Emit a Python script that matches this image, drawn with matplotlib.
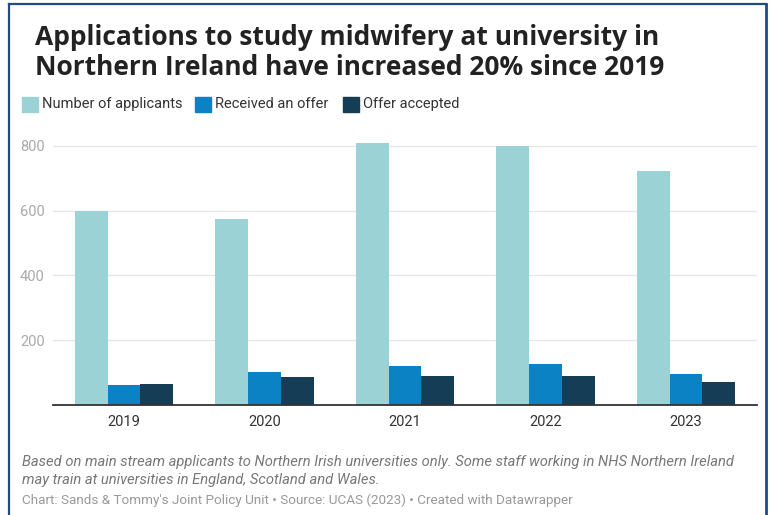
import matplotlib
matplotlib.use("Agg")
import matplotlib.pyplot as plt
import numpy as np

# midwifery applications, Northern Irish universities
years = ["2019", "2020", "2021", "2022", "2023"]
applicants = [600, 574, 809, 800, 723]
offers = [62, 101, 119, 126, 96]
accepted = [64, 85, 89, 89, 71]

series_names = ["Number of applicants", "Received an offer", "Offer accepted"]
series_colors = ["#9ad2d6", "#0a82c4", "#153d55"]

W, H = 771, 515
fig = plt.figure(figsize=(W / 100, H / 100), dpi=100)
fig.patch.set_facecolor("white")

# axes placed in pixel terms
left, right, bottom, top = 53, 757, 405, 130
ax = fig.add_axes([left / W, (H - bottom) / H, (right - left) / W, (bottom - top) / H])

x = np.arange(len(years))
bw = 0.233
for i, (vals, col) in enumerate(zip([applicants, offers, accepted], series_colors)):
    ax.bar(x + (i - 1) * bw, vals, width=bw, color=col, zorder=3)

ax.set_xlim(-0.505, len(years) - 1 + 0.505)
ax.set_ylim(0, 849)
ax.set_yticks([200, 400, 600, 800])
ax.yaxis.grid(True, color="#e6e6e6", lw=1, zorder=0)
ax.tick_params(axis="y", length=0, pad=6, labelsize=10.5, labelcolor="#aaaaaa")
ax.set_xticks(x)
ax.set_xticklabels(years)
ax.tick_params(axis="x", length=0, pad=7, labelsize=10.5, labelcolor="#333333")
for s in ["top", "right", "left"]:
    ax.spines[s].set_visible(False)
ax.spines["bottom"].set_color("#333333")
ax.spines["bottom"].set_linewidth(1.3)
ax.spines["bottom"].set_zorder(4)
for lab in ax.get_yticklabels() + ax.get_xticklabels():
    lab.set_family("Roboto")

# title
fig.text(35 / W, 1 - 45 / H, "Applications to study midwifery at university in",
         fontsize=19, fontweight="bold", family="Open Sans", color="#222222", va="baseline")
fig.text(35 / W, 1 - 75 / H, "Northern Ireland have increased 20% since 2019",
         fontsize=19, fontweight="bold", family="Open Sans", color="#222222", va="baseline")

# legend
leg_x = [22, 195, 343]
for lx, name, col in zip(leg_x, series_names, series_colors):
    fig.patches.append(plt.Rectangle((lx / W, 1 - 112 / H), 16 / W, 15 / H,
                                     transform=fig.transFigure, color=col, figure=fig))
    fig.text((lx + 20) / W, 1 - 104 / H, name, fontsize=10.5, family="Roboto",
             color="#333333", va="center")

# notes
fig.text(22 / W, 1 - 462 / H,
         "Based on main stream applicants to Northern Irish universities only. Some staff working in NHS Northern Ireland",
         fontsize=10.6, family="Roboto", style="italic", color="#777777", va="center")
fig.text(22 / W, 1 - 480 / H, "may train at universities in England, Scotland and Wales.",
         fontsize=10.6, family="Roboto", style="italic", color="#777777", va="center")
fig.text(22 / W, 1 - 500 / H,
         "Chart: Sands & Tommy's Joint Policy Unit \u2022 Source: UCAS (2023) \u2022 Created with Datawrapper",
         fontsize=9.7, family="Roboto", color="#999999", va="center")

# frame
frame = "#1f4a86"
fig.add_artist(plt.Line2D([9 / W, 9 / W], [0, 1 - 4 / H], color=frame, lw=1.6))
fig.add_artist(plt.Line2D([9 / W, 766 / W], [1 - 4 / H, 1 - 4 / H], color=frame, lw=1.6))
fig.add_artist(plt.Line2D([766 / W, 766 / W], [0, 1 - 4 / H], color=frame, lw=2))

fig.savefig("out.png", dpi=100)
